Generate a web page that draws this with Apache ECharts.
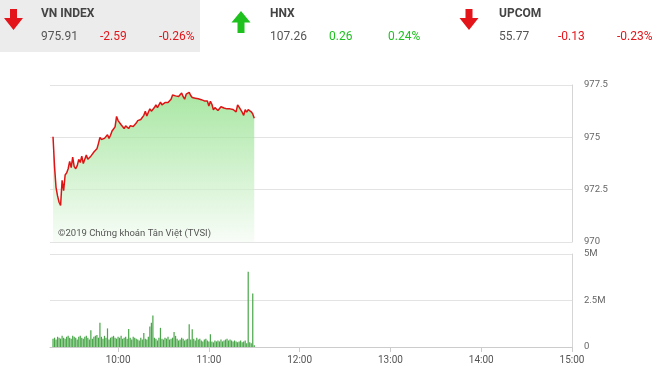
<!DOCTYPE html>
<html><head><meta charset="utf-8">
<script src="https://cdn.jsdelivr.net/npm/echarts@6/dist/echarts.min.js"></script>
<style>html,body{margin:0;padding:0;background:#fff}#c{width:660px;height:373px}</style>
</head><body><div id="c"></div><script>
// ---- data ----
const startTime = '09:17';          // first sample, one sample per minute
const axisStart = '09:15';
const axisEnd = '15:00';
const timeTicks = ['10:00', '11:00', '12:00', '13:00', '14:00', '15:00'];
const priceTicks = [970, 972.5, 975, 977.5];
const volumeTicks = [0, 2.5, 5];   // millions
const priceValues = [
  975.03, 973.6, 972.6, 972.2, 971.9, 971.75, 972.95, 972.45, 973.2,
  973.3, 973.5, 973.85, 973.55, 974.05, 973.6, 973.5, 973.65, 973.95, 973.8,
  974.1, 973.75, 973.95, 974.15, 973.95, 973.9, 974.1, 974.2, 974.3, 974.35,
  974.45, 974.7, 975.0, 974.9, 974.85, 974.95, 974.9, 975.12, 974.95, 975.1,
  975.3, 975.4, 975.5, 976.0, 975.8, 975.75, 975.6, 975.58, 975.42, 975.55,
  975.5, 975.42, 975.55, 975.6, 975.52, 975.6, 975.68, 975.8, 975.72, 975.85,
  975.92, 976.05, 976.25, 976.02, 976.2, 976.36, 976.25, 976.3, 976.42, 976.55,
  976.42, 976.5, 976.68, 976.55, 976.62, 976.66, 976.72, 976.66, 976.62, 976.82,
  977.02, 977.08, 976.98, 977.05, 976.95, 977.02, 977.12, 976.94, 976.82, 977.06,
  977.1, 977.15, 977.0, 976.9, 976.92, 976.87, 976.86, 976.84, 976.78, 976.8,
  976.75, 976.74, 976.8, 976.74, 976.5, 976.72, 976.58, 976.32, 976.42, 976.48,
  976.28, 976.22, 976.46, 976.52, 976.4, 976.38, 976.36, 976.28, 976.36, 976.42,
  976.33, 976.26, 976.22, 976.55, 976.44, 976.39, 976.2, 976.05, 976.32, 976.2,
  976.32, 976.25, 976.22, 976.12, 975.91
];
const volumeValues = [
  0.45, 0.5, 0.4, 0.55, 0.5, 0.45, 0.6, 0.5, 0.45,
  0.55, 0.6, 0.5, 0.45, 0.6, 0.55, 0.5, 0.4, 0.55, 0.6,
  0.5, 0.45, 0.55, 0.6, 0.5, 0.4, 0.9, 0.45, 0.55, 0.6,
  0.65, 0.5, 1.3, 0.55, 0.45, 0.6, 0.5, 1.0, 0.4, 0.5,
  0.55, 0.6, 0.5, 0.45, 0.55, 0.5, 0.6, 0.45, 0.5, 0.55,
  0.45, 0.97, 0.5, 0.4, 0.55, 0.5, 0.45, 0.4, 0.35, 0.5,
  0.4, 0.75, 0.45, 0.4, 0.55, 1.1, 1.3, 1.7, 0.5, 0.45,
  0.35, 0.5, 1.03, 0.45, 0.4, 0.5, 0.45, 0.55, 0.4, 0.45,
  0.5, 0.8, 0.6, 0.45, 0.35, 0.4, 0.5, 0.45, 0.35, 0.4,
  0.45, 1.22, 0.4, 0.95, 0.45, 0.35, 0.5, 0.4, 0.45, 0.35,
  0.3, 0.4, 0.45, 0.35, 0.3, 0.68, 0.3, 0.25, 0.35, 0.3,
  0.35, 0.3, 0.4, 0.3, 0.35, 0.4, 0.45, 0.35, 0.4, 0.35,
  0.3, 0.35, 0.3, 0.25, 0.3, 0.35, 0.25, 0.3, 0.35, 0.2,
  4.05, 0.25, 0.2, 2.88, 0.1
];
const indexNames = ['VN INDEX', 'HNX', 'UPCOM'];
const indexValues = ['975.91', '107.26', '55.77'];
const indexChanges = ['-2.59', '0.26', '-0.13'];
const indexPcts = ['-0.26%', '0.24%', '-0.23%'];
const indexDirs = ['down', 'up', 'down'];
const watermark = '©2019 Chứng khoán Tân Việt (TVSI)';

// ---- helpers ----
const toMin = s => { const [h, m] = s.split(':').map(Number); return h * 60 + m; };
const fmtMin = v => { const h = Math.floor(v / 60), m = Math.round(v % 60); return String(h).padStart(2, '0') + ':' + String(m).padStart(2, '0'); };
const t0 = toMin(startTime);
const times = priceValues.map((_, i) => t0 + i);
const tickMins = timeTicks.map(toMin);

const FONT = 'Roboto';
const NARROW = '"Liberation Sans Narrow", Roboto, sans-serif';
const RED = '#e3151b', GREEN = '#1fc11f';

// header graphics
const colX = [41, 270, 499];
const arrowX = [13.5, 241, 469];
const graphics = [
  { type: 'rect', left: 0, top: 0, shape: { width: 200, height: 52 }, style: { fill: '#ececec' }, silent: true, z: -1 }
];
indexNames.forEach((n, i) => {
  const cx = arrowX[i];
  const down = indexDirs[i] === 'down';
  const pts = down
    ? [[cx - 3.5, 9], [cx + 3.5, 9], [cx + 3.5, 18], [cx + 9.5, 18], [cx, 30], [cx - 9.5, 18], [cx - 3.5, 18]]
    : [[cx, 11], [cx + 9.5, 22.5], [cx + 3.5, 22.5], [cx + 3.5, 33], [cx - 3.5, 33], [cx - 3.5, 22.5], [cx - 9.5, 22.5]];
  graphics.push({ type: 'polygon', shape: { points: pts }, style: { fill: down ? RED : GREEN }, silent: true });
  const col = down ? RED : GREEN;
  graphics.push({ type: 'text', x: colX[i], y: 14, style: { text: n, font: 'bold 12px ' + NARROW, fill: '#444', textVerticalAlign: 'middle' } });
  graphics.push({ type: 'text', x: colX[i], y: 37, style: { text: indexValues[i], font: '12px ' + NARROW, fill: '#555', textVerticalAlign: 'middle' } });
  graphics.push({ type: 'text', x: colX[i] + 59, y: 37, style: { text: indexChanges[i], font: '12px ' + NARROW, fill: col, textVerticalAlign: 'middle' } });
  graphics.push({ type: 'text', x: colX[i] + 118, y: 37, style: { text: indexPcts[i], font: '12px ' + NARROW, fill: col, textVerticalAlign: 'middle' } });
});
graphics.push({ type: 'text', x: 58, y: 234, style: { text: watermark, font: '9.5px ' + NARROW, fill: '#555', textVerticalAlign: 'middle' }, z: 10 });

const chart = echarts.init(document.getElementById('c'), null, { renderer: 'canvas' });
const gridLine = { show: true, lineStyle: { color: '#e3e3e3', width: 1 } };
chart.setOption({
  animation: false,
  backgroundColor: '#fff',
  graphic: graphics,
  grid: [
    { left: 50, right: 88, top: 85, height: 157 },
    { left: 50, right: 88, top: 254, height: 93 }
  ],
  xAxis: [
    { type: 'value', gridIndex: 0, min: toMin(axisStart), max: toMin(axisEnd),
      axisLine: { show: false }, axisTick: { show: false }, axisLabel: { show: false }, splitLine: { show: false } },
    { type: 'value', gridIndex: 1, min: toMin(axisStart), max: toMin(axisEnd),
      axisLine: { show: true, onZero: false, lineStyle: { color: '#ccc' } },
      axisTick: { show: true, length: 5, lineStyle: { color: '#ccc' }, customValues: tickMins },
      axisLabel: { color: '#555', fontSize: 10, fontFamily: FONT, margin: 8, customValues: tickMins, formatter: fmtMin },
      splitLine: { show: false } }
  ],
  yAxis: [
    { type: 'value', gridIndex: 0, position: 'right', min: priceTicks[0], max: priceTicks[priceTicks.length - 1], interval: 2.5,
      axisLine: { show: true, lineStyle: { color: '#d5d5d5' } }, axisTick: { show: false },
      axisLabel: { color: '#666', fontSize: 9.5, fontFamily: FONT, margin: 12 },
      splitLine: gridLine },
    { type: 'value', gridIndex: 1, position: 'right', min: volumeTicks[0], max: volumeTicks[volumeTicks.length - 1], interval: 2.5,
      axisLine: { show: true, lineStyle: { color: '#d5d5d5' } }, axisTick: { show: false },
      axisLabel: { color: '#666', fontSize: 9.5, fontFamily: FONT, margin: 12, formatter: v => v === 0 ? '0' : v + 'M' },
      splitLine: gridLine }
  ],
  series: [
    { type: 'line', xAxisIndex: 0, yAxisIndex: 0, data: priceValues.map((v, i) => [times[i], v]),
      showSymbol: false, symbol: 'none',
      lineStyle: { color: '#de1414', width: 1.5 },
      areaStyle: { color: new echarts.graphic.LinearGradient(0, 0, 0, 1, [
        { offset: 0, color: '#84dc7c' }, { offset: 1, color: '#f5fcf4' }]) } },
    { type: 'bar', xAxisIndex: 1, yAxisIndex: 1, data: volumeValues.map((v, i) => [times[i], v]),
      barWidth: 1.2, itemStyle: { color: '#48a648' } }
  ]
});
</script></body></html>
